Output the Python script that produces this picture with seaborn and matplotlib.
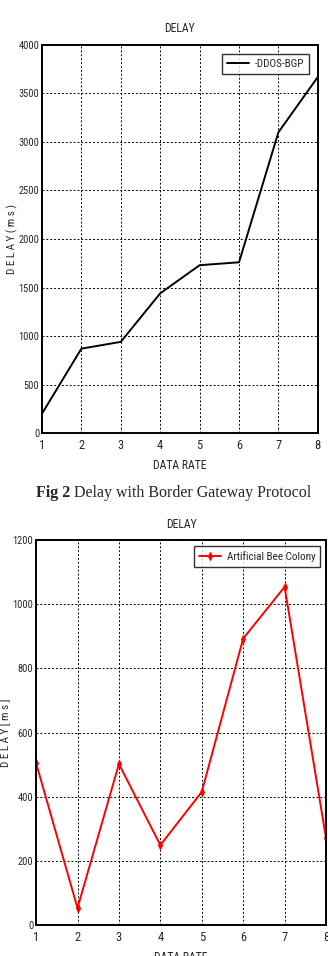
import matplotlib
matplotlib.use("Agg")
import matplotlib.pyplot as plt
import seaborn as sns
import pandas as pd

data_rate = [1, 2, 3, 4, 5, 6, 7, 8]
ddos_bgp_delay = [200, 870, 940, 1440, 1730, 1760, 3100, 3670]
abc_delay = [505, 53, 502, 249, 415, 893, 1054, 271]

top_yticks = [0, 500, 1000, 1500, 2000, 2500, 3000, 3500, 4000]
bot_yticks = [0, 200, 400, 600, 800, 1000, 1200]

sns.set_style("white")
plt.rcParams['font.family'] = ['Roboto Condensed', 'Liberation Sans Narrow', 'Liberation Sans', 'DejaVu Sans']

fig = plt.figure(figsize=(3.28, 9.56), dpi=100)
ax1 = fig.add_axes([0.128, 0.547, 0.841, 0.406])
ax2 = fig.add_axes([0.110, 0.0324, 0.884, 0.4027])

df1 = pd.DataFrame({"x": data_rate, "y": ddos_bgp_delay})
df2 = pd.DataFrame({"x": data_rate, "y": abc_delay})

sns.lineplot(data=df1, x="x", y="y", ax=ax1, color="black", linewidth=1.4, label="-DDOS-BGP")
sns.lineplot(data=df2, x="x", y="y", ax=ax2, color="red", linewidth=1.4, marker="d",
             markersize=4, markeredgecolor="red", label="Artificial Bee Colony")

for ax, yt, lim, ylabel, lp, bap in [(ax1, top_yticks, 4000, "D E L A Y ( m s )", 0, 0.8),
                                      (ax2, bot_yticks, 1200, "D E L A Y [ m s ]", 1, 0.5)]:
    ax.set_xlim(1, 8)
    ax.set_ylim(0, lim)
    ax.set_xticks(data_rate)
    ax.set_yticks(yt)
    ax.tick_params(axis='both', direction='in', length=3, labelsize=7.5, pad=2, color='black')
    ax.tick_params(axis='x', labelsize=9, pad=4)
    ax.grid(True, linestyle=(0, (2, 2)), color='black', linewidth=0.7)
    for s in ax.spines.values():
        s.set_visible(True)
        s.set_color('black')
        s.set_linewidth(1.4)
    ax.set_title("DELAY", fontsize=8.5, pad=9)
    ax.set_xlabel("DATA RATE", fontsize=8.5, labelpad=5)
    ax.set_ylabel(ylabel, fontsize=8, labelpad=lp)
    leg = ax.legend(loc="upper right", fontsize=8, frameon=True, fancybox=False,
                    edgecolor='black', handlelength=2.0, handletextpad=0.5,
                    borderpad=0.45, borderaxespad=bap)
    leg.get_frame().set_linewidth(1.0)

t1 = fig.text(0.11, 0.484, "Fig 2", family="Liberation Serif", fontweight="bold",
              fontsize=11.5, ha="left", va="center")
ax2.annotate(" Delay with Border Gateway Protocol", xy=(1, 0), xycoords=t1,
             family="Liberation Serif", fontsize=11.5, ha="left", va="bottom",
             annotation_clip=False)

fig.savefig("out.png", dpi=100)
